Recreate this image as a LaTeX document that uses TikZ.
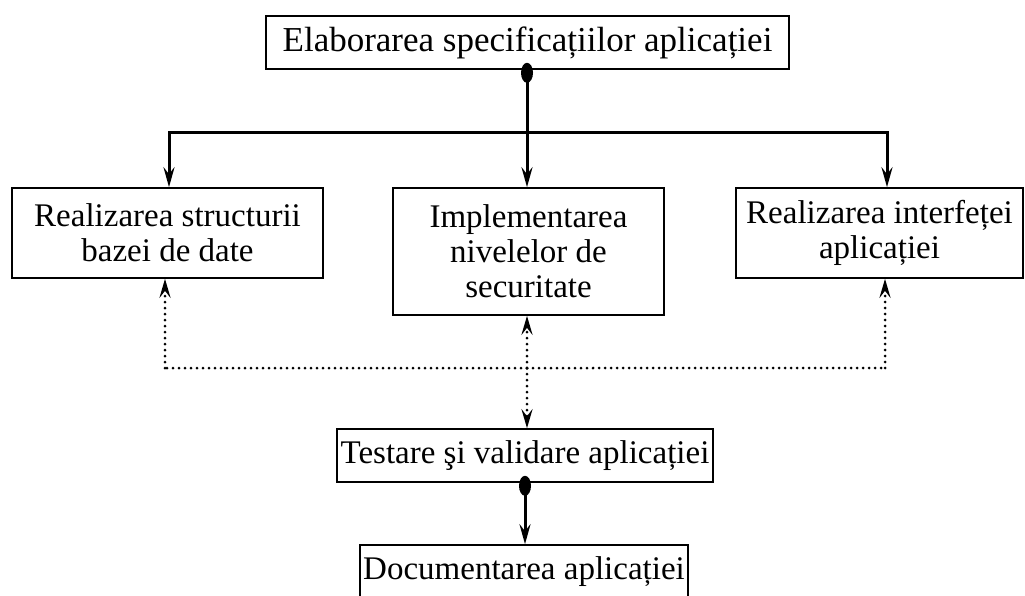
\documentclass[tikz,border=0pt]{standalone}
\usepackage{fontspec}
\setmainfont{Liberation Serif}
\usetikzlibrary{arrows.meta,calc}
\begin{document}
\begin{tikzpicture}[x=1pt,y=1pt,
  box/.style={draw,line width=1.6pt,inner sep=0pt,align=center,font=\fontsize{33}{35}\selectfont},
  solidarr/.style={line width=3pt,-{Stealth[length=20pt,width=11pt,inset=7pt]}},
  dotarr/.style={line width=3pt,line cap=round,dash pattern=on 0pt off 6pt,-{Stealth[length=19pt,width=11pt,inset=7pt]}},
  dotline/.style={line width=3pt,line cap=round,dash pattern=on 0pt off 6pt}]
\clip (0,0) rectangle (1025,-595);
\useasboundingbox (0,0) rectangle (1025,-595);
\node[box,minimum width=523pt,minimum height=53pt,font=\fontsize{35}{35}\selectfont] (top) at (527.5,-42.5) {Elaborarea specificațiilor aplicației};
\node[box,minimum width=311pt,minimum height=90pt] (left) at (167.5,-233) {Realizarea structurii\\bazei de date};
\node[box,minimum width=271pt,minimum height=127pt] (mid) at (528.5,-251.5) {Implementarea\\nivelelor de\\securitate};
\node[box,minimum width=287pt,minimum height=90pt] (right) at (879.5,-233) {Realizarea interfeței\\aplicației};
\node[box,minimum width=376pt,minimum height=53pt] (test) at (525,-455.5) {Testare şi validare aplicației};
\node[box,minimum width=328pt,minimum height=53pt] (doc) at (524,-571.5) {Documentarea aplicației};
% solid connectors
\coordinate (j) at (527,-132);
\fill (top.south -| j) ++(0,-3) ellipse (6pt and 10pt);
\draw[line width=3pt] (top.south -| j) -- (j);
\draw[solidarr] (j) -| ([xshift=1.5pt]left.north);
\draw[solidarr] (j) -- (j |- mid.north);
\draw[solidarr] (j) -| ([xshift=7.5pt]right.north);
% dotted connectors
\coordinate (d) at (527,-368);
\draw[dotline] (d) -- (165,-368);
\draw[dotline] (d) -- (885,-368);
\draw[dotarr] (165,-368) -- ([xshift=-2.5pt]left.south);
\draw[dotarr] (885,-368) -- ([xshift=5.5pt]right.south);
\draw[dotarr] (d) -- (d |- mid.south);
\draw[dotarr] (d) -- (d |- test.north);
% bottom
\fill (test.south) ++(0,-3) ellipse (6pt and 10pt);
\draw[solidarr] (test.south) -- (test.south |- doc.north);
\end{tikzpicture}
\end{document}
